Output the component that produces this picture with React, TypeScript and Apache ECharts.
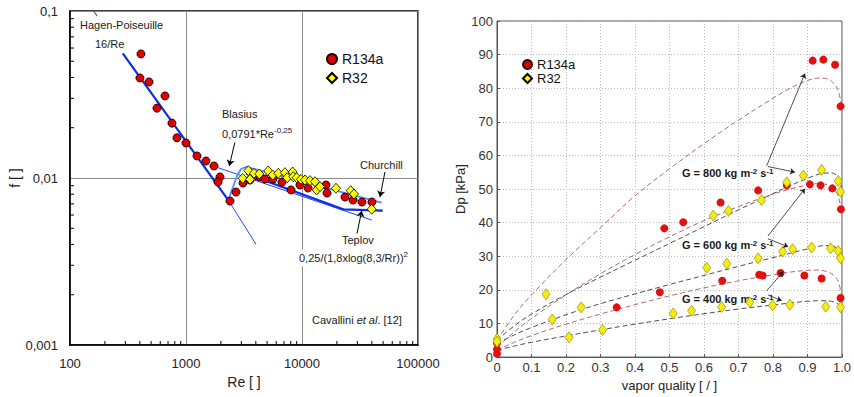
import React, { useEffect, useRef } from 'react';
import * as echarts from 'echarts';

const FONT = '"Liberation Sans", Arial, Helvetica, sans-serif';

// ---------------- Left panel: friction factor vs Re (log-log) ----------------
const leftXTicks = [100, 1000, 10000, 100000];
const leftYTicks = [0.001, 0.01, 0.1];

const r134aLeft: [number, number][] = [
  [409, 0.0553], [401, 0.0397], [480, 0.0376], [659, 0.031], [562, 0.0262], [757, 0.0213],
  [836, 0.0174], [1000, 0.0162], [1244, 0.01355], [1486, 0.01264], [1743, 0.0118], [1963, 0.01014],
  [1888, 0.00946], [2698, 0.00824], [2395, 0.00728], [3100, 0.00933], [3565, 0.00973], [4090, 0.01028],
  [4345, 0.01014], [4800, 0.00986], [5625, 0.00986], [6725, 0.00946], [8040, 0.00848], [9610, 0.00908],
  [11270, 0.00871], [16100, 0.00908], [16440, 0.00813], [23490, 0.00769], [27540, 0.00738],
  [32900, 0.00718], [40100, 0.00718],
];

const r32Left: [number, number][] = [
  [3080, 0.00995], [3445, 0.01106], [3565, 0.00982], [3857, 0.01067], [4285, 0.01057], [5120, 0.01101],
  [5590, 0.01042], [6250, 0.01067], [7130, 0.01076], [7460, 0.01004], [8310, 0.01086], [8410, 0.01018],
  [8990, 0.01004], [9800, 0.00982], [10610, 0.00973], [11730, 0.00964], [12950, 0.0095], [13390, 0.00848],
  [14300, 0.00887], [19630, 0.00868], [26300, 0.0084], [28070, 0.00802], [39900, 0.0065],
];

const hagenTop: [number, number][] = [[160, 0.1], [171, 0.0935]];
const hagenMain: [number, number][] = [[285, 0.0558], [2315, 0.00738]];
const hagenTail: [number, number][] = [[2315, 0.00738], [4010, 0.00401]];
const blasius: [number, number][] = [[1778, 0.01169], [39900, 0.0056]];
const churchill: [number, number][] = [
  [2315, 0.00738], [2541, 0.00883], [2754, 0.01028], [2979, 0.01132], [3290, 0.01164], [3935, 0.01132],
  [6460, 0.01035], [11720, 0.00933], [23480, 0.00813], [48600, 0.00711],
];
const teplov: [number, number][] = [[3300, 0.0106], [22700, 0.00649], [49600, 0.00637]];

const leftArrows: [number, number][][] = [
  [[2645, 0.0165], [2362, 0.0118]],   // Blasius
  [[51930, 0.0109], [47020, 0.0077]], // Churchill
  [[29620, 0.00456], [32710, 0.00637]], // Teplov
];

// ---------------- Right panel: pressure drop vs vapor quality ----------------
const rightXTicks = [0, 0.1, 0.2, 0.3, 0.4, 0.5, 0.6, 0.7, 0.8, 0.9, 1.0];
const rightYTicks = [0, 10, 20, 30, 40, 50, 60, 70, 80, 90, 100];

const r134aRight: [number, number][] = [
  [0, 4.2], [0, 2.3], [0, 1.0],
  [0.347, 14.8], [0.472, 19.3], [0.653, 22.7], [0.76, 24.5], [0.77, 24.3], [0.822, 25.0], [0.891, 24.3],
  [0.941, 23.4], [0.996, 17.6],
  [0.485, 38.3], [0.54, 40.1], [0.648, 46.0], [0.757, 49.6], [0.84, 51.1], [0.907, 51.4], [0.938, 51.1],
  [0.972, 50.2], [0.997, 44.0],
  [0.915, 88.2], [0.946, 88.5], [0.98, 87.0], [0.996, 74.6],
];

const r32Right: [number, number][] = [
  [0, 5.4], [0, 4.6],
  [0.142, 18.7], [0.209, 5.9], [0.16, 11.2], [0.244, 14.8], [0.306, 8.1],
  [0.511, 13.0], [0.564, 13.8], [0.651, 14.9], [0.733, 16.3], [0.799, 15.4], [0.849, 15.6], [0.953, 15.0],
  [0.996, 14.8],
  [0.608, 26.6], [0.666, 27.8], [0.757, 29.4], [0.828, 31.4], [0.857, 32.1], [0.912, 32.6], [0.967, 32.4],
  [0.989, 31.6], [0.996, 29.4],
  [0.627, 42.1], [0.671, 43.5], [0.767, 46.7], [0.84, 52.0], [0.888, 54.0], [0.941, 55.7], [0.989, 52.4],
  [0.996, 49.2],
];

const fitR134a800: [number, number][] = [
  [0, 5], [0.05, 12.5], [0.1, 18.5], [0.2, 29], [0.3, 38.5], [0.4, 48], [0.5, 56], [0.6, 63.5], [0.7, 70.5],
  [0.8, 77], [0.85, 80], [0.9, 82.3], [0.93, 83], [0.96, 82.7], [0.98, 81], [0.99, 79], [1.0, 74],
];
const fitR134a600: [number, number][] = [
  [0, 3], [0.05, 7.5], [0.1, 11.5], [0.2, 18.5], [0.3, 24.8], [0.4, 30.5], [0.5, 35.8], [0.6, 40.6], [0.7, 44.8],
  [0.8, 48.5], [0.85, 50], [0.9, 51.2], [0.93, 51.6], [0.96, 51.2], [0.98, 49.6], [0.99, 47.5], [1.0, 43],
];
const fitR134a400: [number, number][] = [
  [0, 2], [0.05, 4.4], [0.1, 6.4], [0.2, 9.8], [0.3, 12.8], [0.4, 15.6], [0.5, 18.2], [0.6, 20.6], [0.7, 22.7],
  [0.8, 24.5], [0.85, 25.3], [0.9, 25.8], [0.93, 25.9], [0.96, 25.3], [0.98, 24], [0.99, 22.3], [1.0, 18],
];
const fitR32800: [number, number][] = [
  [0, 5], [0.05, 9.3], [0.1, 12.8], [0.2, 18.6], [0.3, 23.8], [0.4, 28.8], [0.5, 33.8], [0.6, 38.8], [0.7, 43.8],
  [0.8, 48.6], [0.85, 51], [0.9, 53.2], [0.94, 54.6], [0.97, 54.8], [0.99, 53.3], [1.0, 49.5],
];
const fitR32600: [number, number][] = [
  [0, 4], [0.05, 6.6], [0.1, 8.8], [0.2, 12.6], [0.3, 15.9], [0.4, 18.8], [0.5, 21.6], [0.6, 24.3], [0.7, 27],
  [0.8, 29.6], [0.85, 30.9], [0.9, 32.2], [0.94, 33.1], [0.97, 33.2], [0.99, 31.8], [1.0, 29],
];
const fitR32400: [number, number][] = [
  [0, 2], [0.05, 3.3], [0.1, 4.4], [0.2, 6.3], [0.3, 8.1], [0.4, 9.8], [0.5, 11.4], [0.6, 12.9], [0.7, 14.3],
  [0.8, 15.5], [0.85, 16.1], [0.9, 16.6], [0.94, 16.8], [0.97, 16.6], [0.99, 15.7], [1.0, 14.3],
];

const rightArrows: [number, number][][] = [
  [[0.7817, 56.9], [0.8928, 84.4]],
  [[0.7855, 56.7], [0.8638, 55.0]],
  [[0.7855, 36.0], [0.8928, 50.1]],
  [[0.7855, 35.2], [0.8443, 32.8]],
  [[0.7817, 19.7], [0.8299, 25.5]],
  [[0.7855, 18.5], [0.8252, 16.8]],
];

function leftLine(data: [number, number][], color: string, width: number, z = 3) {
  return {
    type: 'line', xAxisIndex: 0, yAxisIndex: 0, data, showSymbol: false, symbol: 'none',
    lineStyle: { color, width }, z, silent: true, clip: false,
  };
}

function fitLine(data: [number, number][], color: string) {
  return {
    type: 'line', xAxisIndex: 1, yAxisIndex: 1, data, showSymbol: false, symbol: 'none',
    smooth: 0.35,
    lineStyle: { color, width: 1, type: [5, 3] }, z: 3, silent: true,
  };
}

function txt(x: number, y: number, text: string, opts: any = {}) {
  return {
    type: 'text', x, y, z: opts.z ?? 100,
    style: {
      text, fontSize: opts.fontSize || 11, fontFamily: FONT, fill: '#1a1a1a',
      fontWeight: opts.bold ? 'bold' : 'normal',
      align: 'left', verticalAlign: 'middle',
      backgroundColor: '#fff', padding: opts.pad ?? [1, 1, 1, 1],
      rich: opts.rich,
    },
  };
}

export default function App() {
  const ref = useRef<HTMLDivElement>(null);
  useEffect(() => {
    document.body.style.margin = '0';
    const chart = echarts.init(ref.current!, null, { renderer: 'svg' });

    const minorTicks: number[][] = [];
    for (const dec of [100, 1000, 10000]) for (let k = 2; k <= 9; k++) minorTicks.push([k * dec, leftYTicks[0], 0]);
    for (const dec of [0.001, 0.01]) for (let k = 2; k <= 9; k++) minorTicks.push([leftXTicks[0], k * dec, 1]);

    const supRich = (fs: number, bold = false, lh = fs + 4) => ({
      t: { fontSize: fs, fontFamily: FONT, fontWeight: bold ? 'bold' : 'normal', fill: '#1a1a1a', lineHeight: lh },
      s: { fontSize: fs - 3, fontFamily: FONT, fontWeight: bold ? 'bold' : 'normal', fill: '#1a1a1a', verticalAlign: 'top' },
      i: { fontSize: fs, fontFamily: FONT, fontStyle: 'italic', fill: '#1a1a1a', lineHeight: lh },
    });
    const gOpts = { rich: supRich(11, true, 12), bold: true, z: 3.5, pad: 0 };

    const option: any = {
      animation: false,
      backgroundColor: '#fff',
      grid: [
        { left: 70, top: 11, width: 348, height: 334, show: true, borderColor: '#000', borderWidth: 1.5 },
        { left: 497, top: 21, width: 345, height: 342, show: true, borderColor: '#555', borderWidth: 1 },
      ],
      legend: [
        {
          data: ['R134a', 'R32'], left: 321, top: 47, orient: 'vertical', itemWidth: 10, itemHeight: 10,
          itemGap: 5, selectedMode: false,
          textStyle: { fontSize: 14, fontFamily: FONT, color: '#111' },
        },
        {
          data: ['R134a', 'R32'], left: 517, top: 53, orient: 'vertical', itemWidth: 9, itemHeight: 9,
          itemGap: 1, selectedMode: false,
          textStyle: { fontSize: 13, fontFamily: FONT, color: '#111' },
        },
      ],
      xAxis: [
        {
          gridIndex: 0, type: 'log', logBase: 10, min: leftXTicks[0], max: leftXTicks[leftXTicks.length - 1],
          axisLine: { lineStyle: { color: '#000', width: 1.5 } },
          axisTick: { show: false },
          axisLabel: { fontSize: 13, color: '#222', fontFamily: FONT, margin: 12, formatter: (v: number) => String(Math.round(v)) },
          splitLine: { show: true, lineStyle: { color: '#8a8a8a', width: 1 } },
          name: 'Re [ ]', nameLocation: 'middle', nameGap: 28,
          nameTextStyle: { fontSize: 14, color: '#222', fontFamily: FONT },
        },
        {
          gridIndex: 1, type: 'value', min: rightXTicks[0], max: rightXTicks[rightXTicks.length - 1], interval: 0.1,
          axisLine: { lineStyle: { color: '#555' } },
          axisTick: { inside: true, length: 3, lineStyle: { color: '#555' } },
          axisLabel: {
            fontSize: 13, color: '#333', fontFamily: FONT, margin: 4,
            formatter: (v: number) => (Math.abs(v) < 1e-9 ? '0' : v.toFixed(1)),
          },
          splitLine: { show: true, lineStyle: { color: '#b8b8b8', type: [1, 2] } },
          name: 'vapor quality [ / ]', nameLocation: 'middle', nameGap: 20,
          nameTextStyle: { fontSize: 13, color: '#222', fontFamily: FONT },
        },
      ],
      yAxis: [
        {
          gridIndex: 0, type: 'log', logBase: 10, min: leftYTicks[0], max: leftYTicks[leftYTicks.length - 1],
          axisLine: { lineStyle: { color: '#000', width: 1.5 } },
          axisTick: { show: false },
          axisLabel: {
            fontSize: 13, color: '#222', fontFamily: FONT, margin: 12,
            formatter: (v: number) => String(+v.toPrecision(3)).replace('.', ','),
          },
          splitLine: { show: true, lineStyle: { color: '#8a8a8a', width: 1 } },
          name: 'f [ ]', nameLocation: 'middle', nameGap: 48, nameRotate: 90,
          nameTextStyle: { fontSize: 14, color: '#222', fontFamily: FONT },
        },
        {
          gridIndex: 1, type: 'value', min: rightYTicks[0], max: rightYTicks[rightYTicks.length - 1], interval: 10,
          axisLine: { lineStyle: { color: '#555' } },
          axisTick: { inside: true, length: 3, lineStyle: { color: '#555' } },
          axisLabel: { fontSize: 13, color: '#333', fontFamily: FONT, margin: 4 },
          splitLine: { show: true, lineStyle: { color: '#b8b8b8', type: [1, 2] } },
          name: 'Dp [kPa]', nameLocation: 'middle', nameGap: 27, nameRotate: 90,
          nameTextStyle: { fontSize: 13, color: '#222', fontFamily: FONT },
        },
      ],
      series: [
        {
          type: 'custom', xAxisIndex: 0, yAxisIndex: 0, data: minorTicks, silent: true, clip: false, z: 6,
          renderItem: (_p: any, api: any) => {
            const pt = api.coord([api.value(0), api.value(1)]);
            const k = api.value(2);
            const shape = k === 0
              ? { x1: pt[0], y1: pt[1], x2: pt[0], y2: pt[1] - 4 }
              : { x1: pt[0], y1: pt[1], x2: pt[0] + 4, y2: pt[1] };
            return { type: 'line', shape, style: { stroke: '#000', lineWidth: 1 } };
          },
        },
        leftLine(hagenTop, '#2f5cff', 1.2),
        leftLine(hagenMain, '#0b2fe6', 2.2),
        leftLine(hagenTail, '#2245ff', 1),
        leftLine(blasius, '#2245ff', 1),
        leftLine(churchill, '#4d8dff', 1.8),
        leftLine(teplov, '#0b2fe6', 2.2),
        {
          type: 'lines', coordinateSystem: 'cartesian2d', xAxisIndex: 0, yAxisIndex: 0, silent: true, z: 7,
          symbol: ['none', 'arrow'], symbolSize: 6,
          lineStyle: { color: '#000', width: 1, opacity: 1 },
          data: leftArrows.map((c) => ({ coords: c })),
        },
        {
          name: 'R134a', type: 'scatter', xAxisIndex: 0, yAxisIndex: 0, data: r134aLeft,
          symbol: 'circle', symbolSize: 8, z: 4,
          itemStyle: { color: '#e00000', borderColor: '#2a0000', borderWidth: 1, opacity: 1 },
        },
        {
          name: 'R32', type: 'scatter', xAxisIndex: 0, yAxisIndex: 0, data: r32Left,
          symbol: 'diamond', symbolSize: [9, 10], z: 5,
          itemStyle: { color: '#ffff00', borderColor: '#000', borderWidth: 0.8, opacity: 1 },
        },
        fitLine(fitR134a800, '#b06a6a'),
        fitLine(fitR134a600, '#b06a6a'),
        fitLine(fitR134a400, '#b06a6a'),
        fitLine(fitR32800, '#505050'),
        fitLine(fitR32600, '#505050'),
        fitLine(fitR32400, '#505050'),
        {
          type: 'lines', coordinateSystem: 'cartesian2d', xAxisIndex: 1, yAxisIndex: 1, silent: true, z: 7,
          symbol: ['none', 'arrow'], symbolSize: 5,
          lineStyle: { color: '#222', width: 0.8, opacity: 1 },
          data: rightArrows.map((c) => ({ coords: c })),
        },
        {
          name: 'R134a', type: 'scatter', xAxisIndex: 1, yAxisIndex: 1, data: r134aRight,
          symbol: 'circle', symbolSize: 8, z: 4, itemStyle: { color: '#e31010', opacity: 1 },
        },
        {
          name: 'R32', type: 'scatter', xAxisIndex: 1, yAxisIndex: 1, data: r32Right,
          symbol: 'diamond', symbolSize: [8, 11], z: 5,
          itemStyle: { color: '#f4ee10', borderColor: '#9a8f00', borderWidth: 0.7, opacity: 1 },
        },
      ],
      graphic: [
        txt(79, 25, 'Hagen-Poiseuille'),
        txt(94, 44, '16/Re'),
        txt(221, 114, 'Blasius'),
        txt(221, 134, '{t|0,0791*Re}{s|-0,25}', { rich: supRich(11) }),
        txt(359, 165, 'Churchill'),
        txt(341, 240, 'Teplov'),
        txt(298, 258, '{t|0,25/(1,8xlog(8,3/Rr))}{s|2}', { rich: supRich(11) }),
        txt(311, 320, '{t|Cavallini }{i|et al}{t|. [12]}', { rich: supRich(11) }),
        txt(682, 173, '{t|G = 800 kg m}{s|-2}{t| s}{s|-1}', gOpts),
        txt(682, 245, '{t|G = 600 kg m}{s|-2}{t| s}{s|-1}', gOpts),
        txt(682, 299, '{t|G = 400 kg m}{s|-2}{t| s}{s|-1}', gOpts),
      ],
    };
    chart.setOption(option);
    return () => chart.dispose();
  }, []);
  return <div ref={ref} style={{ width: 854, height: 397, background: '#fff' }} />;
}
